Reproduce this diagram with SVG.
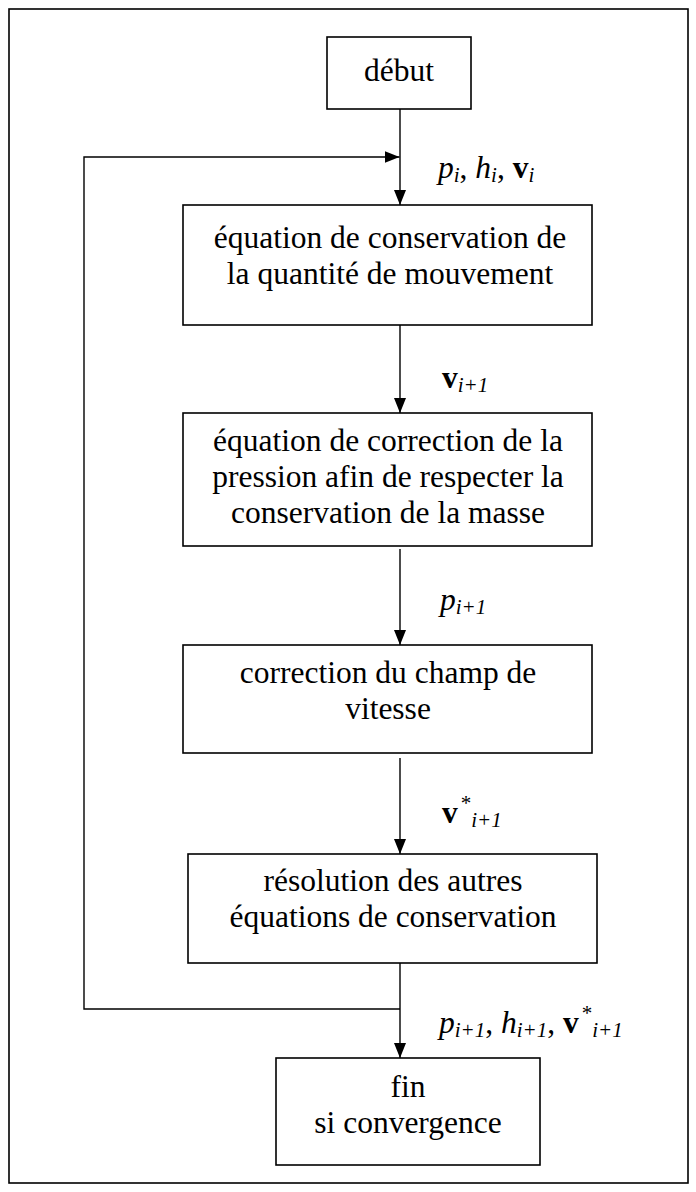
<svg xmlns="http://www.w3.org/2000/svg" width="696" height="1192" viewBox="0 0 696 1192">
<style>
.box{fill:#fff;stroke:#000;stroke-width:1.6}
.frame{fill:#fff;stroke:#000;stroke-width:1.6}
.con{fill:none;stroke:#000;stroke-width:1.4}
text{font-family:"Liberation Serif","Times New Roman",serif;font-size:31.5px;fill:#000}
.t{text-anchor:middle}
.it{font-style:italic}
.b{font-weight:bold}
.s{font-size:21px;font-style:italic}
</style>
<defs>
<marker id="ah" viewBox="0 0 15 12" refX="15" refY="6" markerWidth="15" markerHeight="12" markerUnits="userSpaceOnUse" orient="auto">
<path d="M0,0 L15,6 L0,12 Z" fill="#000"/>
</marker>
</defs>
<rect class="frame" x="9" y="9" width="679" height="1174"/>
<g id="connectors">
<line class="con" x1="400" y1="109" x2="400" y2="205" marker-end="url(#ah)"/>
<line class="con" x1="400" y1="325" x2="400" y2="413" marker-end="url(#ah)"/>
<line class="con" x1="400" y1="549" x2="400" y2="645" marker-end="url(#ah)"/>
<line class="con" x1="400" y1="758" x2="400" y2="854" marker-end="url(#ah)"/>
<line class="con" x1="400" y1="963" x2="400" y2="1058" marker-end="url(#ah)"/>
<path class="con" d="M400,1009 H84 V157 H399.5" marker-end="url(#ah)"/>
<text x="438" y="178"><tspan class="it">p</tspan><tspan class="s" dy="4">i</tspan><tspan dy="-4">, </tspan><tspan class="it">h</tspan><tspan class="s" dy="4">i</tspan><tspan dy="-4">, </tspan><tspan class="b">v</tspan><tspan class="s" dy="4">i</tspan></text>
<text x="442" y="388"><tspan class="b">v</tspan><tspan class="s" dy="4">i+1</tspan></text>
<text x="440" y="610"><tspan class="it">p</tspan><tspan class="s" dy="4">i+1</tspan></text>
<text x="442" y="823"><tspan class="b">v</tspan><tspan font-size="21px" dy="-13" dx="3">*</tspan><tspan class="s" dy="17">i+1</tspan></text>
<text x="439" y="1033"><tspan class="it">p</tspan><tspan class="s" dy="4">i+1</tspan><tspan dy="-4">, </tspan><tspan class="it">h</tspan><tspan class="s" dy="4">i+1</tspan><tspan dy="-4">, </tspan><tspan class="b">v</tspan><tspan font-size="21px" dy="-13" dx="3">*</tspan><tspan class="s" dy="17">i+1</tspan></text>
</g>
<g id="debut">
<rect class="box" x="327" y="37" width="144" height="72"/>
<text class="t" x="399" y="81">début</text>
</g>
<g id="quantite">
<rect class="box" x="183" y="205" width="409" height="120"/>
<text class="t" x="390" y="248">équation de conservation de</text>
<text class="t" x="390" y="284">la quantité de mouvement</text>
</g>
<g id="pression">
<rect class="box" x="183" y="413" width="409" height="133"/>
<text class="t" x="388" y="451">équation de correction de la</text>
<text class="t" x="388" y="487">pression afin de respecter la</text>
<text class="t" x="388" y="523">conservation de la masse</text>
</g>
<g id="vitesse">
<rect class="box" x="183" y="645" width="409" height="108"/>
<text class="t" x="388" y="683">correction du champ de</text>
<text class="t" x="388" y="719">vitesse</text>
</g>
<g id="autres">
<rect class="box" x="188" y="854" width="409" height="109"/>
<text class="t" x="393" y="891">résolution des autres</text>
<text class="t" x="393" y="927">équations de conservation</text>
</g>
<g id="fin">
<rect class="box" x="276" y="1058" width="264" height="107"/>
<text class="t" x="408" y="1097">fin</text>
<text class="t" x="408" y="1133">si convergence</text>
</g>
</svg>
